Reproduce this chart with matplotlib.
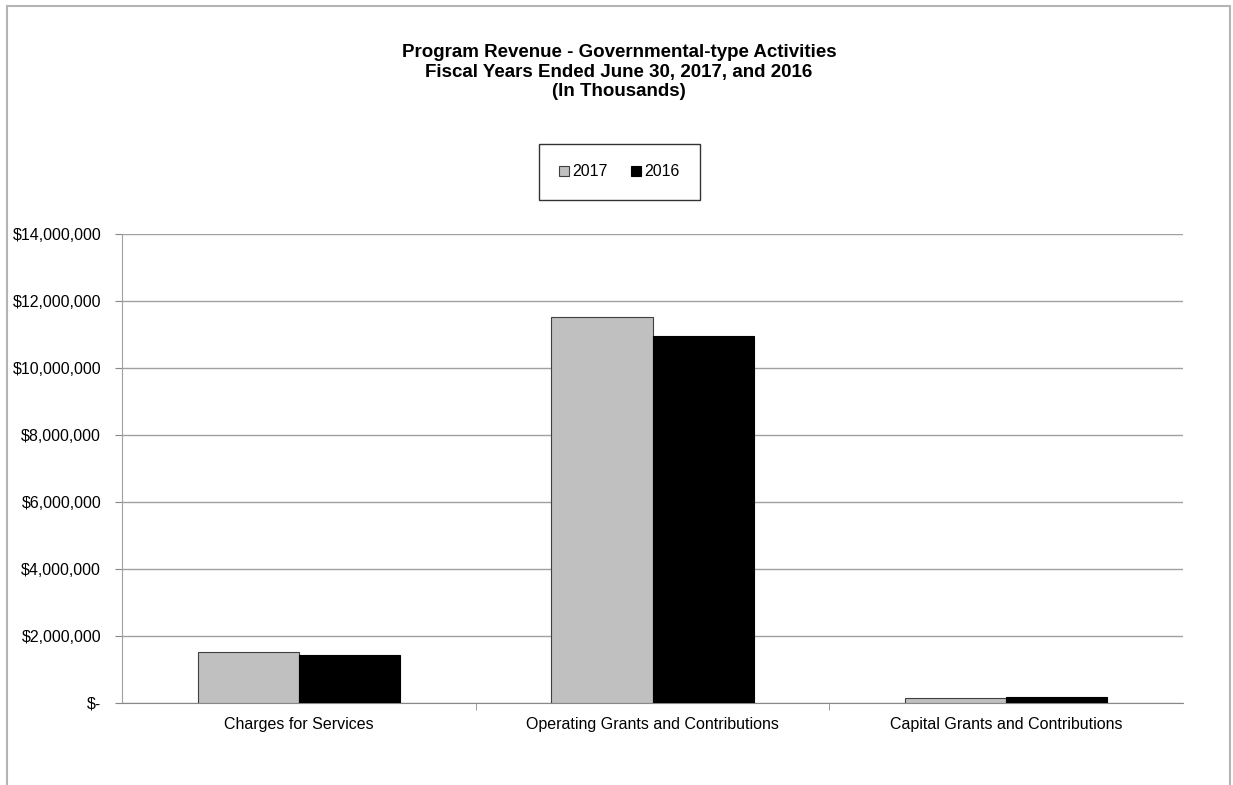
import numpy as np
import matplotlib.pyplot as plt
from matplotlib.patches import Rectangle
from matplotlib.ticker import FuncFormatter

plt.rcParams['font.family'] = ['Liberation Sans', 'DejaVu Sans']

# Program revenue, in thousands of dollars
categorias = ['Charges for Services', 'Operating Grants and Contributions',
              'Capital Grants and Contributions']
serie_2017 = [1510000, 11520000, 150000]
serie_2016 = [1430000, 10950000, 180000]
etiquetas_series = ['2017', '2016']

fig = plt.figure(figsize=(12.33, 7.85), dpi=100)

# Marco exterior del grafico
fig.patches.append(Rectangle((7 / 1233, -0.05), (1230 - 7) / 1233, 1.05 - 6 / 785,
                             transform=fig.transFigure, fill=False,
                             edgecolor='#b4b4b4', linewidth=1.5))

ax = fig.add_axes([122 / 1233, 1 - 703 / 785, (1183 - 122) / 1233, (703 - 234) / 785])

x = np.arange(len(categorias))
ancho = 0.286
ax.bar(x - ancho / 2, serie_2017, ancho, color='#c0c0c0', edgecolor='#404040',
       linewidth=0.8, label=etiquetas_series[0], zorder=3)
ax.bar(x + ancho / 2, serie_2016, ancho, color='black', edgecolor='black',
       linewidth=0.8, label=etiquetas_series[1], zorder=3)

ax.set_xlim(-0.5, 2.5)
ax.set_ylim(0, 14000000)
ax.set_yticks(np.arange(0, 14000001, 2000000))
ax.yaxis.set_major_formatter(FuncFormatter(lambda v, p: '$-' if v == 0 else f'${v:,.0f}'))
ax.grid(axis='y', color='#a0a0a0', linewidth=1, zorder=0)

ax.set_xticks(x)
ax.set_xticklabels(categorias)
ax.set_xticks([0.5, 1.5], minor=True)
ax.tick_params(axis='x', which='major', length=0, pad=10, labelsize=11.5)
ax.tick_params(axis='x', which='minor', length=5, color='#888888', direction='out')
ax.tick_params(axis='y', length=5, color='#888888', pad=10, labelsize=11.5)

for lado in ['top', 'right']:
    ax.spines[lado].set_visible(False)
ax.spines['left'].set_color('#a0a0a0')
ax.spines['bottom'].set_color('#888888')

fig.text(0.502, 1 - 72 / 785,
         'Program Revenue - Governmental-type Activities\n'
         'Fiscal Years Ended June 30, 2017, and 2016\n(In Thousands)',
         ha='center', va='center', fontsize=13.5, fontweight='bold', linespacing=1.2)

leg = fig.legend(loc='center', bbox_to_anchor=(619.5 / 1233, 1 - 172 / 785), ncol=2,
                 fontsize=11.5, frameon=True, fancybox=False, handlelength=0.6,
                 handleheight=0.6, handletextpad=0.2, columnspacing=1.5,
                 borderpad=1.3, borderaxespad=0)
leg.get_frame().set_edgecolor('black')
leg.get_frame().set_linewidth(1)

fig.savefig('out.png', dpi=100)
